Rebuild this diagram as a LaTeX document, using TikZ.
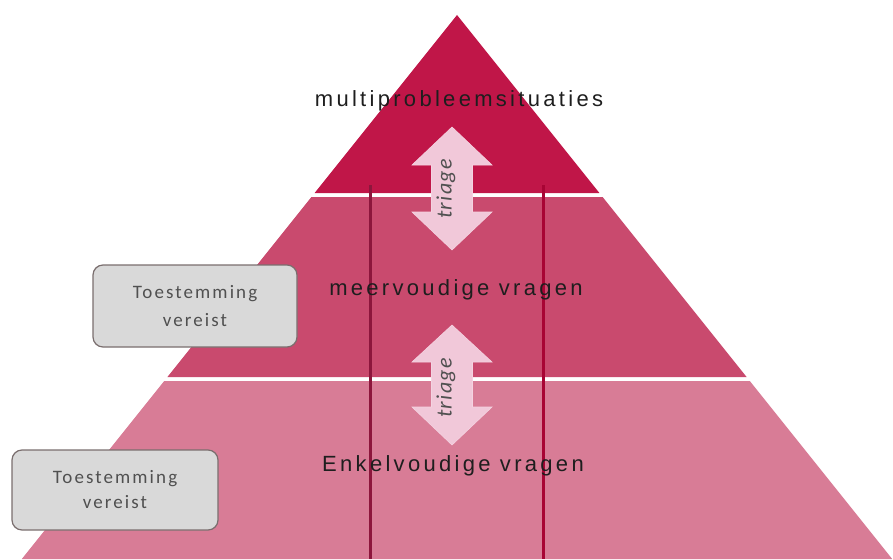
\documentclass[tikz,border=0pt]{standalone}
\usepackage{fontspec}
\newfontfamily\lblfont[LetterSpace=15]{Liberation Sans}
\newfontfamily\boxfont[LetterSpace=11]{Carlito}
\newfontfamily\trifont[LetterSpace=6]{Carlito}
\definecolor{tierA}{RGB}{192,22,72}
\definecolor{tierB}{RGB}{201,74,110}
\definecolor{tierC}{RGB}{216,124,150}
\definecolor{lineL}{RGB}{140,22,60}
\definecolor{lineR}{RGB}{168,4,52}
\definecolor{arrowfill}{RGB}{241,200,217}
\definecolor{boxfill}{RGB}{217,217,217}
\definecolor{boxline}{RGB}{122,110,110}
\definecolor{lbltext}{RGB}{30,30,30}
\definecolor{boxtext}{RGB}{80,80,80}
\tikzset{
  lbl/.style={text=lbltext,font=\lblfont\fontsize{22}{26}\selectfont,inner sep=0pt},
  permbox/.style={draw=boxline,line width=1.2pt,fill=boxfill,rounded corners=10pt,
    text=boxtext,align=center,inner sep=0pt},
  vline/.style={line width=3pt},
  dblarrow/.style={fill=arrowfill,draw=arrowfill!80!white,line width=0.6pt},
  trilbl/.style={text=boxtext,font=\trifont\itshape\fontsize{22}{26}\selectfont,rotate=90,inner sep=0pt}
}
\begin{document}
\begin{tikzpicture}[x=1pt,y=-1pt]
\useasboundingbox (0,0) rectangle (893,559);
% tiers
\fill[tierA] (457,15) -- (599.4,193) -- (314.6,193) -- cycle;
\fill[tierB] (311.4,197) -- (602.6,197) -- (746.6,377) -- (167.4,377) -- cycle;
\fill[tierC] (164.2,381) -- (749.8,381) -- (892.2,559) -- (21.8,559) -- cycle;
% vertical lines
\coordinate (l1t) at (370,185); \coordinate (l1b) at (370,559);
\coordinate (l2t) at (543,185); \coordinate (l2b) at (543,559);
\draw[vline,lineL] (l1t) -- (l1b);
\draw[vline,lineR] (l2t) -- (l2b);
% arrows
\draw[dblarrow] (452,127) -- (492,165) -- (472.5,165) -- (472.5,212) -- (492,212)
  -- (452,250) -- (412,212) -- (431.5,212) -- (431.5,165) -- (412,165) -- cycle;
\draw[dblarrow] (452,325) -- (492,362) -- (472.5,362) -- (472.5,407) -- (492,407)
  -- (452,445) -- (412,407) -- (431.5,407) -- (431.5,362) -- (412,362) -- cycle;
\node[trilbl] (tri1) at (446,189) {triage};
\node[trilbl] (tri2) at (446,388) {triage};
% labels
\node[lbl] (multi) at (459,101) {multiprobleemsituaties};
\node[lbl] (meer) at (456,290) {meervoudige vragen};
\node[lbl] (enkel) at (453,466) {Enkelvoudige vragen};
% boxes
\node[permbox,minimum width=204pt,minimum height=82pt,
  font=\boxfont\fontsize{19}{28}\selectfont] (box1) at (195,306) {Toestemming\\vereist};
\node[permbox,minimum width=206pt,minimum height=80pt,
  font=\boxfont\fontsize{19}{25}\selectfont] (box2) at (115,490) {Toestemming\\vereist};
\end{tikzpicture}
\end{document}
